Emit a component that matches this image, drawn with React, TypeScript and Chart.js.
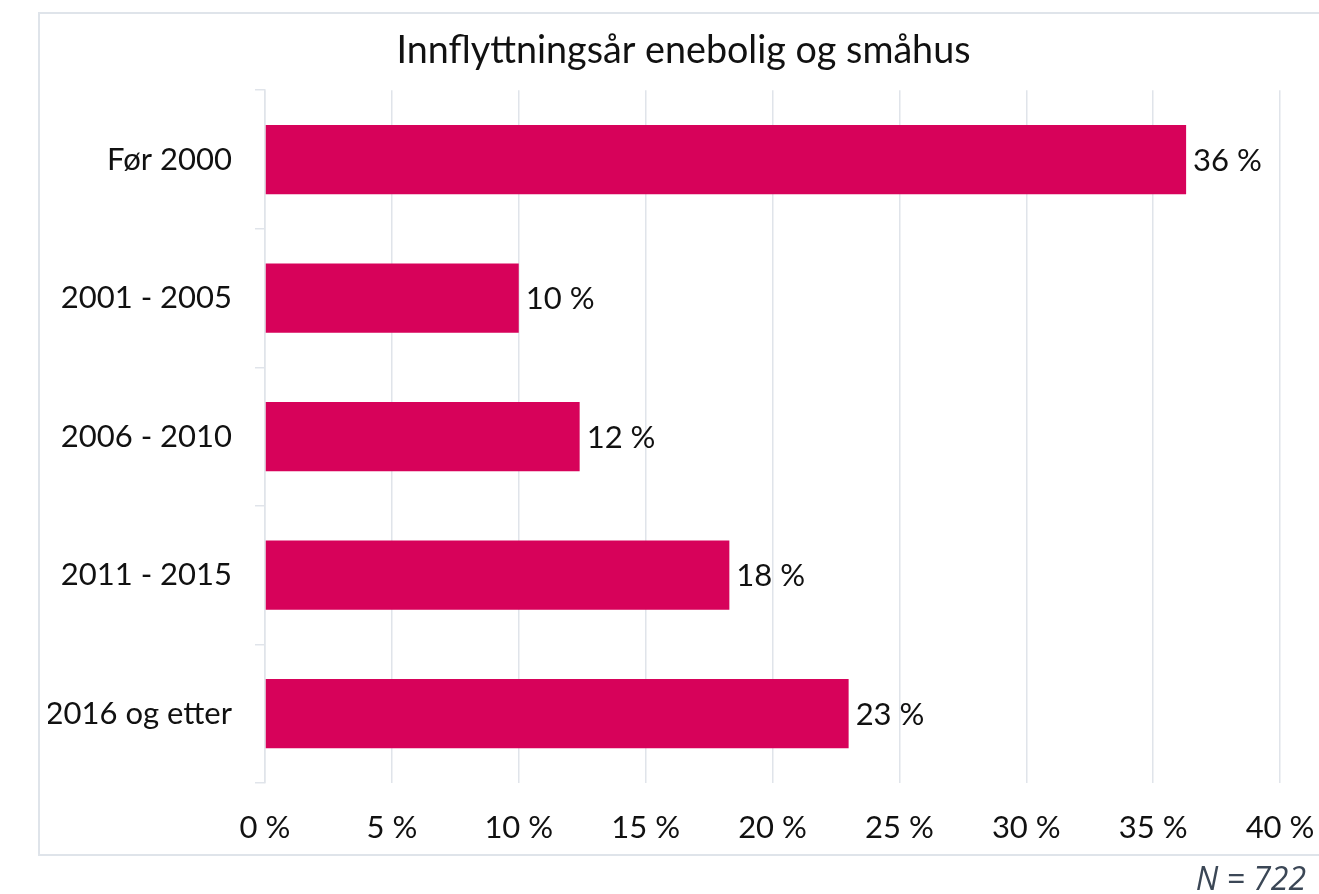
import React, { useEffect, useRef } from "react";
import { Chart, registerables } from "chart.js";

Chart.register(...registerables);

const chartTitle = "Innflyttningsår enebolig og småhus";
const categories = ["Før 2000", "2001 - 2005", "2006 - 2010", "2011 - 2015", "2016 og etter"];
const shares = [36.3, 10.0, 12.4, 18.3, 23.0];
const valueLabels = ["36 %", "10 %", "12 %", "18 %", "23 %"];
const xTicks = [0, 5, 10, 15, 20, 25, 30, 35, 40];
const noteText = "N = 722";

const BAR_COLOR = "#D7025A";
const GRID_COLOR = "#e0e4ea";
const FONT = "Lato, 'Open Sans', sans-serif";

const valueLabelPlugin = {
  id: "valueLabels",
  afterDatasetsDraw(chart: any) {
    const ctx = chart.ctx;
    const meta = chart.getDatasetMeta(0);
    ctx.save();
    ctx.font = `31px ${FONT}`;
    ctx.fillStyle = "#111";
    ctx.textAlign = "left";
    ctx.textBaseline = "middle";
    meta.data.forEach((bar: any, i: number) => {
      ctx.fillText(valueLabels[i], bar.x + 7, bar.y + 1);
    });
    ctx.restore();
  },
};

export default function App() {
  const canvasRef = useRef<HTMLCanvasElement | null>(null);

  useEffect(() => {
    if (!canvasRef.current) return;
    const chart = new Chart(canvasRef.current, {
      type: "bar",
      data: {
        labels: categories,
        datasets: [
          {
            data: shares,
            backgroundColor: BAR_COLOR,
            borderWidth: 0,
            barPercentage: 1,
            categoryPercentage: 0.5,
          },
        ],
      },
      options: {
        indexAxis: "y",
        animation: false,
        responsive: false,
        maintainAspectRatio: false,
        layout: { padding: { left: 8, right: 0, top: 0, bottom: 0 } },
        plugins: {
          legend: { display: false },
          tooltip: { enabled: false },
          title: {
            display: true,
            text: chartTitle,
            color: "#111",
            font: { family: FONT, size: 37.7, weight: "normal" },
            padding: { top: 14, bottom: 17 },
          },
        },
        scales: {
          x: {
            min: 0,
            max: 40,
            afterBuildTicks(scale: any) {
              scale.ticks = xTicks.map((v) => ({ value: v }));
            },
            afterFit(scale: any) {
              scale.height = 71;
              scale.paddingRight = 39;
              scale.paddingLeft = 0;
            },
            ticks: {
              color: "#111",
              font: { family: FONT, size: 31 },
              padding: 26,
              maxRotation: 0,
              callback: (v: any) => `${v} %`,
            },
            grid: {
              color: GRID_COLOR,
              lineWidth: 1.5,
              drawTicks: false,
            },
            border: { display: false },
          },
          y: {
            afterFit(scale: any) {
              scale.width = 217;
            },
            ticks: {
              color: "#111",
              font: { family: FONT, size: 31 },
              padding: 23,
            },
            grid: {
              color: GRID_COLOR,
              lineWidth: 1.5,
              drawOnChartArea: false,
              drawTicks: true,
              tickLength: 10,
              offset: true,
            },
            border: { display: true, color: GRID_COLOR, width: 1.5 },
          },
        },
      },
      plugins: [valueLabelPlugin],
    });
    return () => chart.destroy();
  }, []);

  return (
    <div>
      <div
        style={{
          position: "fixed",
          left: 38,
          top: 12,
          width: 1320,
          height: 840,
          border: "2px solid #dfe4ea",
          background: "#fff",
        }}
      >
        <canvas ref={canvasRef} width={1279} height={840} style={{ display: "block", width: 1279, height: 840 }} />
      </div>
      <div
        style={{
          position: "fixed",
          right: 13,
          top: 862,
          fontFamily: "'Open Sans', sans-serif",
          fontStyle: "italic",
          fontSize: 32,
          lineHeight: 1,
          color: "#3b4756",
          whiteSpace: "nowrap",
        }}
      >
        {noteText}
      </div>
    </div>
  );
}
